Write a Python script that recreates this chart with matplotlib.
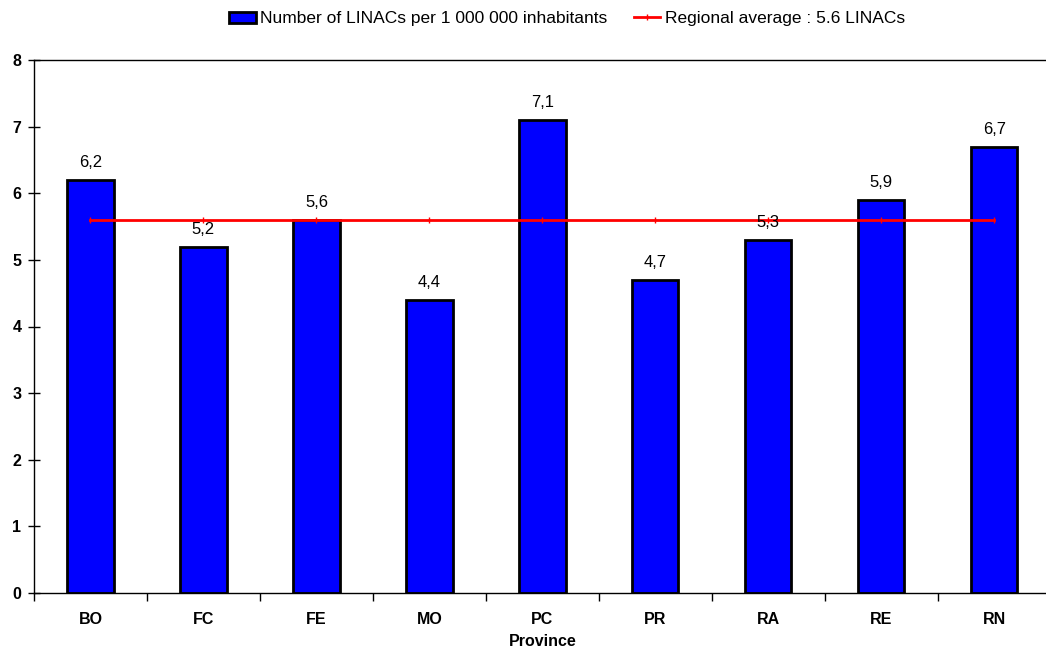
import matplotlib
matplotlib.use("Agg")
from matplotlib import pyplot as plt
from matplotlib.ticker import FixedLocator
import numpy as np

provinces = ["BO", "FC", "FE", "MO", "PC", "PR", "RA", "RE", "RN"]
linacs = [6.2, 5.2, 5.6, 4.4, 7.1, 4.7, 5.3, 5.9, 6.7]
regional_avg = 5.6

plt.rcParams['font.family'] = ['Liberation Sans', 'DejaVu Sans']

fig = plt.figure(figsize=(10.46, 6.53), dpi=100)
ax = fig.add_axes([0.0325, 0.092, 0.972, 0.816])

x = np.arange(len(provinces))
bars = ax.bar(x, linacs, width=0.41, color='#0000ff', edgecolor='black',
              linewidth=2, zorder=2,
              label='Number of LINACs per 1 000 000 inhabitants')
avg_line, = ax.plot(x, [regional_avg] * len(x), color='#ff0000', linewidth=2,
                    marker='|', markersize=4, markeredgewidth=1, zorder=3,
                    label='Regional average : 5.6 LINACs')

# valori sopra le barre, con la virgola decimale
for xi, v in zip(x, linacs):
    ax.annotate(f"{v:.1f}".replace('.', ','), (xi, v), xytext=(0, 7),
                textcoords='offset points', ha='center', va='bottom',
                fontsize=12)

ax.set_xlim(-0.5, len(provinces) - 0.5)
ax.set_ylim(0, 8)
ax.set_yticks(range(0, 9))
ax.set_yticklabels([str(i) for i in range(0, 9)], fontweight='bold', fontsize=11.5)
ax.tick_params(axis='y', direction='inout', length=8, width=1, pad=5)

ax.set_xticks(x)
ax.set_xticklabels(provinces, fontweight='bold', fontsize=11.5)
ax.tick_params(axis='x', which='major', length=0, pad=14)
ax.xaxis.set_minor_locator(FixedLocator(np.arange(-0.5, len(provinces), 1.0)))
ax.tick_params(axis='x', which='minor', direction='out', length=6, width=1)
ax.set_xlabel('Province', fontweight='bold', fontsize=11.5, labelpad=5)

for s in ['left', 'top', 'bottom']:
    ax.spines[s].set_linewidth(1)
    ax.spines[s].set_color('black')
ax.spines['right'].set_visible(False)

fig.legend([bars, avg_line],
           ['Number of LINACs per 1 000 000 inhabitants',
            'Regional average : 5.6 LINACs'],
           loc='center', bbox_to_anchor=(0.542, 0.971), ncol=2, frameon=False,
           fontsize=12.5, handlelength=1.55, handleheight=0.65,
           handletextpad=0.25, columnspacing=1.5)

plt.savefig('out.png', dpi=100)
